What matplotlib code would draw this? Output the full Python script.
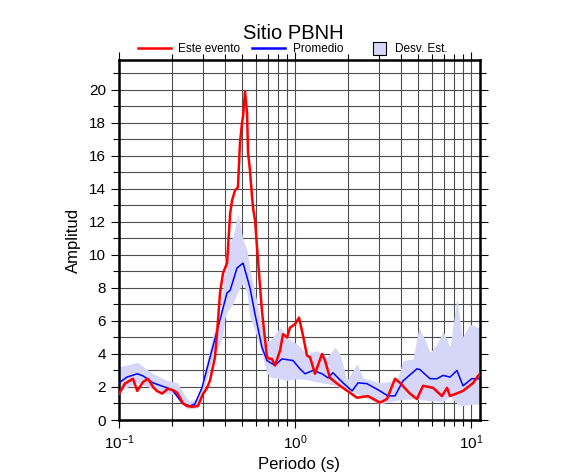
import matplotlib
matplotlib.use("Agg")
import matplotlib.pyplot as plt
from matplotlib.ticker import LogLocator, MultipleLocator, NullFormatter
from matplotlib.lines import Line2D
from matplotlib.patches import Patch, Rectangle
from matplotlib.legend_handler import HandlerPatch
import numpy as np

plt.rcParams['font.family'] = ['Liberation Sans', 'DejaVu Sans']
plt.rcParams['mathtext.fontset'] = 'custom'
plt.rcParams['mathtext.rm'] = 'Liberation Sans'
plt.rcParams['mathtext.it'] = 'Liberation Sans'

title = "Sitio PBNH"
xlabel = "Periodo (s)"
ylabel = "Amplitud"
legend_labels = ["Este evento", "Promedio", "Desv. Est."]

event_T = [0.100, 0.108, 0.120, 0.127, 0.137, 0.146, 0.156, 0.164, 0.176, 0.190, 0.203, 0.214,
           0.231, 0.243, 0.260, 0.281, 0.300, 0.315, 0.329, 0.351, 0.362, 0.375, 0.390, 0.411,
           0.428, 0.439, 0.456, 0.474, 0.487, 0.500, 0.507, 0.520, 0.534, 0.541, 0.555, 0.570,
           0.580, 0.593, 0.608, 0.616, 0.649, 0.693, 0.721, 0.740, 0.770, 0.822, 0.855, 0.901,
           0.937, 1.000, 1.054, 1.096, 1.170, 1.217, 1.299, 1.424, 1.481, 1.580, 1.802, 2.054,
           2.250, 2.600, 3.040, 3.330, 3.700, 3.950, 4.500, 4.930, 5.340, 6.080, 6.840, 7.310,
           7.600, 9.010, 10.30, 10.96, 11.25]
event_A = [1.58, 2.20, 2.50, 1.76, 2.30, 2.50, 2.00, 1.76, 1.60, 1.90, 1.80, 1.65,
           1.00, 0.85, 0.80, 0.85, 1.58, 1.90, 2.40, 3.80, 5.50, 7.70, 8.90, 9.50,
           12.5, 13.3, 13.9, 14.1, 16.8, 18.0, 18.4, 19.9, 18.6, 16.2, 15.1, 13.5,
           12.7, 12.1, 10.5, 9.70, 6.60, 3.80, 3.70, 3.70, 3.30, 4.20, 5.20, 5.00,
           5.60, 5.80, 6.20, 5.40, 3.90, 3.80, 2.80, 4.00, 3.60, 2.55, 2.07, 1.65,
           1.35, 1.45, 1.05, 1.27, 2.50, 2.25, 1.60, 1.27, 2.07, 1.95, 1.45, 1.95,
           1.45, 1.76, 2.25, 2.67, 2.80]

mean_T = [0.100, 0.111, 0.127, 0.137, 0.156, 0.187, 0.203, 0.228, 0.253, 0.270, 0.296, 0.329,
          0.365, 0.411, 0.428, 0.468, 0.500, 0.507, 0.555, 0.593, 0.649, 0.693, 0.770, 0.843,
          0.974, 1.067, 1.140, 1.266, 1.424, 1.540, 1.643, 1.874, 2.109, 2.280, 2.564, 3.040,
          3.370, 3.700, 4.110, 4.930, 5.130, 5.850, 6.410, 6.930, 7.600, 8.320, 9.010, 10.10,
          10.96, 11.25]
mean_A = [2.25, 2.60, 2.80, 2.67, 2.25, 1.95, 1.76, 1.03, 0.85, 0.97, 1.95, 3.80,
          5.60, 7.70, 7.85, 9.20, 9.45, 9.50, 8.00, 6.40, 4.40, 3.60, 3.30, 3.70,
          3.60, 3.10, 2.80, 3.00, 2.80, 2.55, 2.86, 2.25, 1.76, 2.25, 2.20, 1.76,
          1.46, 1.46, 2.37, 3.10, 3.05, 2.50, 2.50, 2.70, 2.60, 3.00, 2.07, 2.50,
          2.50, 2.50]

band_T = [0.100, 0.127, 0.156, 0.187, 0.214, 0.243, 0.253, 0.277, 0.289, 0.310, 0.342, 0.375,
          0.390, 0.400, 0.415, 0.444, 0.474, 0.507, 0.534, 0.555, 0.593, 0.649, 0.693, 0.721,
          0.822, 0.901, 1.026, 1.170, 1.334, 1.520, 1.687, 1.800, 1.974, 2.250, 2.433, 3.040,
          3.800, 4.110, 4.680, 5.060, 5.500, 5.850, 6.410, 6.930, 7.600, 8.320, 8.900, 9.870,
          10.96, 11.25]
band_hi = [3.20, 3.50, 2.80, 2.40, 2.25, 1.30, 1.15, 1.30, 1.60, 3.20, 5.20, 6.40,
           8.00, 9.85, 10.5, 11.1, 12.5, 10.9, 10.3, 9.06, 7.70, 5.60, 4.80, 4.80,
           5.60, 5.00, 4.60, 4.00, 4.20, 3.80, 4.40, 4.00, 2.40, 3.40, 2.55, 2.25,
           2.40, 3.60, 3.70, 5.60, 4.80, 4.10, 4.60, 5.40, 4.40, 7.40, 5.00, 5.80,
           5.60, 5.60]
band_lo = [1.76, 2.25, 1.90, 1.60, 1.50, 0.67, 0.70, 0.72, 1.00, 2.20, 3.80, 4.60,
           5.20, 6.20, 6.60, 7.05, 7.80, 8.30, 7.70, 6.20, 5.40, 4.00, 2.85, 2.60,
           2.50, 2.40, 2.50, 2.45, 2.30, 2.20, 2.10, 1.95, 1.85, 1.60, 1.40, 0.97,
           1.20, 1.25, 1.30, 1.25, 1.20, 1.15, 1.15, 1.10, 1.46, 1.00, 0.85, 0.95,
           0.97, 0.97]

band_color = '#d6d6f8'

fig = plt.figure(figsize=(5.86, 4.75), dpi=100)
ax = fig.add_axes([119/586, 55/475, 361/586, 360/475])

ax.fill_between(band_T, band_lo, band_hi, color=band_color, linewidth=0, zorder=1)
ax.plot(mean_T, mean_A, color='#0000ff', lw=1.1, zorder=3)
ax.plot(event_T, event_A, color='#ff0000', lw=1.8, zorder=4)

ax.set_xscale('log')
ax.set_xlim(0.1, 11.25)
ax.set_ylim(0, 21.8)
ax.xaxis.set_major_locator(LogLocator(base=10, numticks=10))
ax.xaxis.set_minor_locator(LogLocator(base=10, subs=np.arange(2, 10), numticks=20))
ax.xaxis.set_minor_formatter(NullFormatter())
ax.yaxis.set_major_locator(MultipleLocator(2))
ax.yaxis.set_minor_locator(MultipleLocator(1))

ax.grid(True, which='both', color='#4d4d4d', lw=0.8, zorder=0)
ax.set_axisbelow(True)
for s in ax.spines.values():
    s.set_linewidth(1.8)
ax.tick_params(which='both', direction='out', top=True, right=True, labelsize=11, width=0.8)
ax.tick_params(which='major', length=6)
ax.tick_params(which='minor', length=4)

ax.set_xlabel(xlabel, fontsize=12, labelpad=4)
ax.set_ylabel(ylabel, fontsize=12, labelpad=6)
fig.text(0.5, 0.930, title, ha='center', va='center', fontsize=14.5)


def square_patch(legend, orig_handle, xdescent, ydescent, width, height, fontsize):
    s = 9.5
    return Rectangle((-xdescent + width - s - 1.5, -ydescent + (height - s) / 2), s, s)


handles = [Line2D([0], [0], color='#ff0000', lw=1.8),
           Line2D([0], [0], color='#0000ff', lw=1.8),
           Patch(facecolor=band_color, edgecolor='black', lw=0.8)]
fig.legend(handles, legend_labels, loc='center', bbox_to_anchor=(0.5, 0.896), ncol=3,
           frameon=False, fontsize=8.5, handlelength=2.8, handletextpad=0.6, columnspacing=1.0,
           borderaxespad=0, borderpad=0,
           handler_map={Patch: HandlerPatch(patch_func=square_patch)})

fig.savefig('out.png', dpi=100)
